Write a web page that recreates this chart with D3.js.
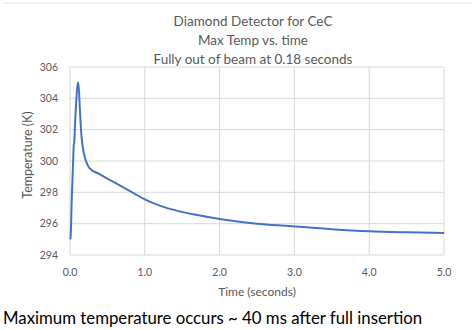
<!DOCTYPE html>
<html>
<head>
<meta charset="utf-8">
<script src="https://cdn.jsdelivr.net/npm/d3@7"></script>
<style>
  body { margin: 0; background: #fff; }
  svg { display: block; font-family: Lato, "Open Sans", sans-serif; }
</style>
</head>
<body>
<svg id="chart" width="474" height="330"></svg>
<script>
// time (s) vs max temperature (K)
const times = [0.005, 0.01, 0.02, 0.027, 0.04, 0.05, 0.057, 0.07, 0.09, 0.105, 0.113, 0.13, 0.15, 0.17, 0.2, 0.23, 0.26, 0.4, 0.55, 0.7, 0.85, 1.0, 1.2, 1.45, 1.7, 2.0, 2.5, 2.93, 3.5, 4.0, 4.5, 5.0];
const temps = [295.0, 295.3, 297.0, 298.0, 299.7, 301.0, 301.2, 302.6, 304.3, 305.0, 305.0, 303.5, 301.8, 300.9, 300.2, 299.8, 299.55, 299.15, 298.75, 298.35, 297.95, 297.55, 297.15, 296.8, 296.55, 296.3, 296.0, 295.85, 295.65, 295.52, 295.45, 295.4];
const xTicks = [0, 1, 2, 3, 4, 5];
const yTicks = [294, 296, 298, 300, 302, 304, 306];
const titleLines = ["Diamond Detector for CeC", "Max Temp vs. time", "Fully out of beam at 0.18 seconds"];

const svg = d3.select("#chart");
const plotL = 70, plotR = 444, plotT = 67, plotB = 255;

const x = d3.scaleLinear().domain([0, 5]).range([plotL, plotR]);
const y = d3.scaleLinear().domain([294, 306]).range([plotB, plotT]);

// faint frame line at top of the screenshot
svg.append("line").attr("x1", 2).attr("x2", 472).attr("y1", 3).attr("y2", 3)
   .attr("stroke", "#e6e6e6").attr("stroke-width", 1);

// gridlines
svg.append("g").selectAll("line").data(yTicks).enter().append("line")
   .attr("x1", plotL).attr("x2", plotR)
   .attr("y1", d => y(d)).attr("y2", d => y(d))
   .attr("stroke", "#d9d9d9").attr("stroke-width", 1);
svg.append("g").selectAll("line").data(xTicks).enter().append("line")
   .attr("x1", d => x(d)).attr("x2", d => x(d))
   .attr("y1", plotT).attr("y2", plotB)
   .attr("stroke", "#d9d9d9").attr("stroke-width", 1);

// tick labels
svg.append("g").selectAll("text").data(yTicks).enter().append("text")
   .attr("x", plotL - 12).attr("y", d => y(d)).attr("dy", "0.35em")
   .attr("text-anchor", "end").attr("font-size", 10.5).attr("fill", "#595959")
   .text(d => d);
svg.append("g").selectAll("text").data(xTicks).enter().append("text")
   .attr("x", d => x(d)).attr("y", 272).attr("dy", "0.35em")
   .attr("text-anchor", "middle").attr("font-size", 10.5).attr("fill", "#595959")
   .text(d => d.toFixed(1));

// axis titles
svg.append("text").attr("x", 257).attr("y", 292).attr("dy", "0.35em")
   .attr("text-anchor", "middle").attr("font-size", 12).attr("fill", "#595959")
   .text("Time (seconds)");
svg.append("text").attr("transform", "translate(28,155) rotate(-90)").attr("dy", "0.35em")
   .attr("text-anchor", "middle").attr("font-size", 12.5).attr("fill", "#595959")
   .text("Temperature (K)");

// chart title
svg.append("g").selectAll("text").data(titleLines).enter().append("text")
   .attr("x", 253).attr("y", (d, i) => 21 + i * 19).attr("dy", "0.35em")
   .attr("text-anchor", "middle").attr("font-size", 13.5).attr("fill", "#595959")
   .text(d => d);

// series
const line = d3.line().x((d, i) => x(times[i])).y(d => y(d)).curve(d3.curveMonotoneX);
svg.append("path").datum(temps)
   .attr("fill", "none").attr("stroke", "#4472c4").attr("stroke-width", 2)
   .attr("stroke-linejoin", "round").attr("d", line);

// caption under the chart
svg.append("text").attr("x", 3).attr("y", 318).attr("dy", "0.35em")
   .attr("font-size", 16.8).attr("fill", "#000")
   .text("Maximum temperature occurs ~ 40 ms after full insertion");
</script>
</body>
</html>
